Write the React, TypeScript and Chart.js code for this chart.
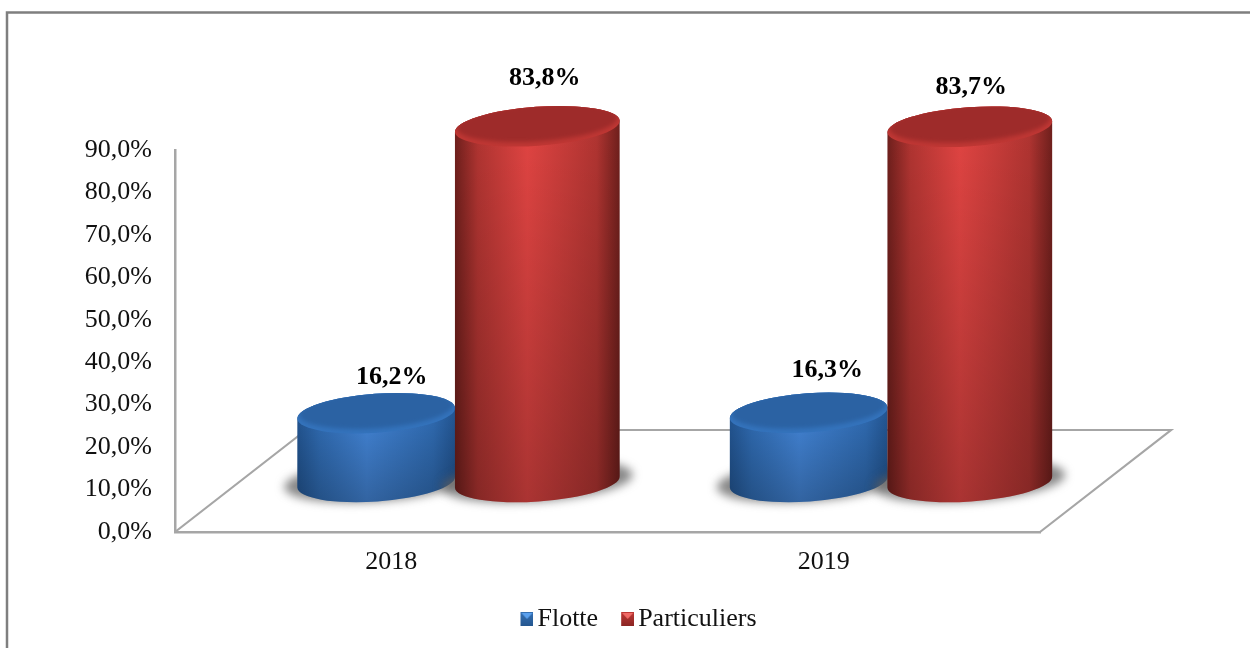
import React, { useEffect, useRef } from "react";
import { Chart, registerables } from "chart.js";

Chart.register(...registerables);

const categories = ["2018", "2019"];
const flotteValues = [16.2, 16.3];
const particuliersValues = [83.8, 83.7];
const flotteLabels = ["16,2%", "16,3%"];
const particuliersLabels = ["83,8%", "83,7%"];

const FONT = "'Liberation Serif', serif";
const DEPTH_X = 131;
const DEPTH_Y = 102;
const GREY = "#a6a6a6";

const themes = [
  {
    edge: "#225490", mid: "#2f6ab0", hi: "#4283d4", cap: "#2b62a3", rim: "#3473bc",
    rxDelta: -1.5, label: [[81, -86], [84, -93]],
    iconTop: "#5aa0ee", iconDark: "#24568f", iconMid: "#3570b4",
  },
  {
    edge: "#6e1f1c", mid: "#b03431", hi: "#e04442", cap: "#9e2b2a", rim: "#bf3734",
    rxDelta: 2, label: [[73, -98], [67, -89]],
    iconTop: "#f06a66", iconDark: "#8a2523", iconMid: "#bf3835",
  },
];

function makeIcon(t: (typeof themes)[number]) {
  const c = document.createElement("canvas");
  c.width = 19;
  c.height = 14;
  const g = c.getContext("2d")!;
  const x0 = 6;
  const grad = g.createLinearGradient(0, 0, 0, 14);
  grad.addColorStop(0, t.iconMid);
  grad.addColorStop(1, t.iconDark);
  g.fillStyle = grad;
  g.fillRect(x0, 0, 13, 14);
  g.fillStyle = t.iconTop;
  g.beginPath();
  g.moveTo(x0 + 1, 1);
  g.lineTo(x0 + 12, 1);
  g.lineTo(x0 + 6.5, 7);
  g.closePath();
  g.fill();
  return c;
}

const scene = {
  id: "scene",
  beforeDraw(chart: any) {
    const { ctx } = chart;
    ctx.save();
    ctx.fillStyle = "#ffffff";
    ctx.fillRect(0, 0, chart.width, chart.height);
    ctx.strokeStyle = "#7f7f7f";
    ctx.lineWidth = 2.5;
    ctx.strokeRect(7, 12.5, chart.width + 50, chart.height + 50);
    ctx.restore();
  },
  beforeDatasetsDraw(chart: any) {
    const { ctx, chartArea: a } = chart;
    ctx.save();
    ctx.strokeStyle = GREY;
    ctx.lineWidth = 2.2;
    ctx.beginPath();
    ctx.moveTo(a.left, a.bottom);
    ctx.lineTo(a.left + DEPTH_X, a.bottom - DEPTH_Y);
    ctx.lineTo(a.right + DEPTH_X, a.bottom - DEPTH_Y);
    ctx.lineTo(a.right, a.bottom);
    ctx.stroke();
    ctx.restore();
  },
  afterDatasetsDraw(chart: any) {
    const { ctx } = chart;
    const rot = -0.07;
    const ry = 19.5;
    const shiftX = DEPTH_X / 2;
    const shiftY = DEPTH_Y / 2 - 1;
    // category by category, blue behind red
    categories.forEach((_, ci) => {
      chart.data.datasets.forEach((_d: any, di: number) => {
        const el = chart.getDatasetMeta(di).data[ci];
        const t = themes[di];
        const rx = el.width / 2 + t.rxDelta;
        const cx = el.x + shiftX;
        const yTop = el.y - shiftY;
        const yBase = el.base - shiftY;

        ctx.save();
        ctx.filter = "blur(5px)";
        ctx.fillStyle = "rgba(95,95,95,0.75)";
        ctx.beginPath();
        ctx.ellipse(cx, yBase - 1, rx + 13, ry + 1, rot, 0, Math.PI * 2);
        ctx.fill();
        ctx.restore();

        const side = ctx.createLinearGradient(cx - rx, 0, cx + rx, 0);
        side.addColorStop(0, t.edge);
        side.addColorStop(0.14, t.mid);
        side.addColorStop(0.44, t.hi);
        side.addColorStop(0.86, t.mid);
        side.addColorStop(1, t.edge);
        const shade = ctx.createLinearGradient(0, yTop, 0, yBase + ry);
        shade.addColorStop(0, "rgba(0,0,0,0)");
        shade.addColorStop(1, "rgba(0,0,0,0.24)");

        ctx.save();
        ctx.beginPath();
        ctx.ellipse(cx, yTop, rx, ry, rot, Math.PI, Math.PI * 2);
        ctx.ellipse(cx, yBase, rx, ry, rot, 0, Math.PI);
        ctx.closePath();
        ctx.fillStyle = side;
        ctx.fill();
        ctx.fillStyle = shade;
        ctx.fill();
        ctx.restore();

        ctx.save();
        ctx.beginPath();
        ctx.ellipse(cx, yTop, rx, ry, rot, 0, Math.PI * 2);
        ctx.clip();
        ctx.fillStyle = t.rim;
        ctx.fillRect(cx - rx - 2, yTop - ry - 14, rx * 2 + 4, ry * 2 + 28);
        ctx.filter = "blur(2px)";
        ctx.fillStyle = t.cap;
        ctx.beginPath();
        ctx.ellipse(cx, yTop - 3.5, rx - 2, ry - 1, rot, 0, Math.PI * 2);
        ctx.fill();
        ctx.restore();
      });
    });

    const texts = [flotteLabels, particuliersLabels];
    ctx.save();
    ctx.font = `bold 26px ${FONT}`;
    ctx.fillStyle = "#000000";
    ctx.textAlign = "center";
    ctx.textBaseline = "middle";
    texts.forEach((list, di) => {
      const els = chart.getDatasetMeta(di).data;
      list.forEach((s, i) => {
        const [dx, dy] = themes[di].label[i];
        ctx.fillText(s, els[i].x + dx, els[i].y + dy);
      });
    });
    ctx.restore();
  },
  afterLayout(chart: any) {
    const l = chart.legend;
    const w = l.right - l.left;
    l.left = 640 - w / 2;
    l.right = 640 + w / 2;
    const h = l.bottom - l.top;
    l.top = 611 - h / 2;
    l.bottom = 611 + h / 2;
  },
};

export default function App() {
  const ref = useRef<HTMLCanvasElement>(null);
  useEffect(() => {
    const chart = new Chart(ref.current!, {
      type: "bar",
      data: {
        labels: categories,
        datasets: [
          { label: "Flotte", data: flotteValues, backgroundColor: "transparent", borderWidth: 0 },
          { label: "Particuliers", data: particuliersValues, backgroundColor: "transparent", borderWidth: 0 },
        ],
      },
      options: {
        responsive: false,
        animation: false,
        layout: { padding: { left: 0, right: 210, top: 150, bottom: 0 } },
        datasets: { bar: { categoryPercentage: 0.745, barPercentage: 1 } },
        scales: {
          x: {
            afterFit: (s: any) => {
              s.height = 116 - s.chart.legend.height;
            },
            grid: { display: false, drawTicks: false },
            border: { display: true, color: GREY, width: 2.5 },
            ticks: { color: "#111", font: { family: FONT, size: 26 }, padding: 15, maxRotation: 0 },
          },
          y: {
            min: 0,
            max: 90,
            afterFit: (s: any) => {
              s.width = 175;
            },
            grid: { display: false, drawTicks: false },
            border: { display: true, color: GREY, width: 2.5 },
            ticks: {
              stepSize: 10,
              color: "#111",
              padding: 23,
              font: { family: FONT, size: 26 },
              callback: (v: any) => Number(v).toFixed(1).replace(".", ",") + "%",
            },
          },
        },
        plugins: {
          tooltip: { enabled: false },
          legend: {
            position: "bottom",
            onClick: () => {},
            labels: {
              usePointStyle: true,
              pointStyleWidth: 1,
              boxHeight: 13,
              padding: 26,
              color: "#111",
              font: { family: FONT, size: 26 },
              generateLabels: (c: any) =>
                c.data.datasets.map((d: any, i: number) => ({
                  text: d.label,
                  datasetIndex: i,
                  pointStyle: makeIcon(themes[i]),
                  fontColor: "#111",
                  lineWidth: 0,
                  strokeStyle: "transparent",
                  fillStyle: "transparent",
                })),
            },
          },
        },
      } as any,
      plugins: [scene],
    });
    return () => chart.destroy();
  }, []);
  return (
    <div style={{ position: "absolute", left: 0, top: 0, width: 1250, height: 648, overflow: "hidden" }}>
      <canvas ref={ref} width={1250} height={648} style={{ display: "block" }} />
    </div>
  );
}
